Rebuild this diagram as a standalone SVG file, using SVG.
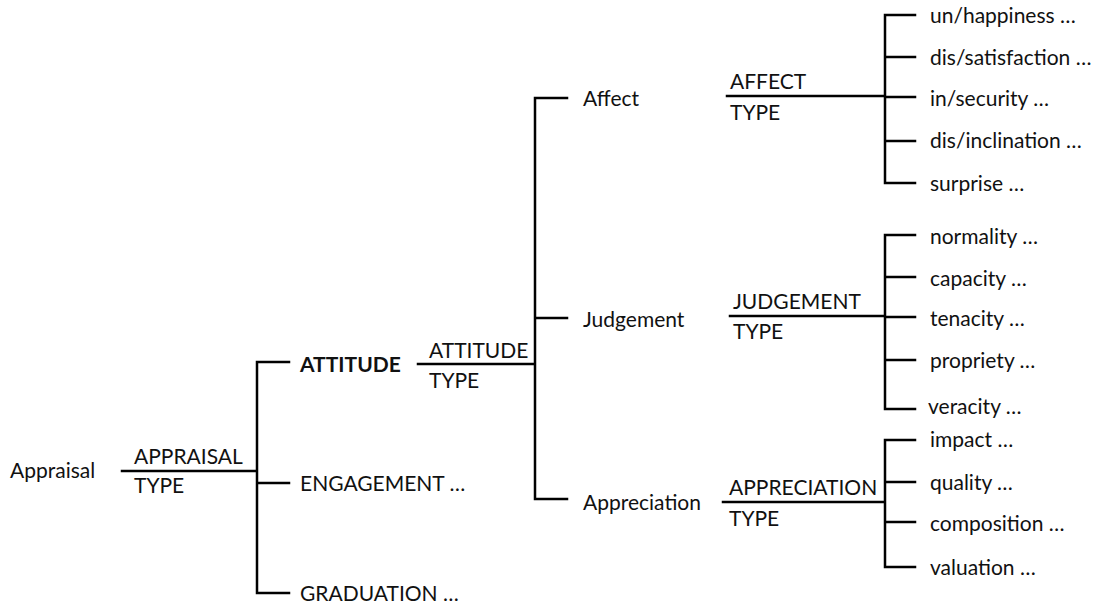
<svg xmlns="http://www.w3.org/2000/svg" width="1106" height="604" viewBox="0 0 1106 604">
<style>
text{font-family:Lato,"Open Sans","Liberation Sans",sans-serif;font-size:21px;fill:#111}
.b{font-weight:bold}
.c{stroke:#000;stroke-width:2.5;fill:none;stroke-linecap:square}
</style>
<rect width="1106" height="604" fill="#fff"/>
<g id="connectors" class="c">
<path d="M122 471H257M257 362V593M257 362H289M257 483H289M257 593H289"/>
<path d="M418 364H535M535 98V499M535 98H567M535 318H567M535 499H567"/>
<path d="M727 96H885M885 15V183M885 15H915M885 57H915M885 97H915M885 141H915M885 183H915"/>
<path d="M730 316H885M885 235V409M885 235H915M885 277H915M885 317H915M885 360H915M885 409H915"/>
<path d="M723 502H885M885 440V567M885 440H915M885 482H915M885 522H915M885 567H915"/>
</g>
<g id="appraisal"><text x="10" y="478">Appraisal</text><text x="134" y="464">APPRAISAL</text><text x="134" y="493">TYPE</text></g>
<g id="attitude"><text class="b" x="300" y="372">ATTITUDE</text><text x="429" y="358">ATTITUDE</text><text x="429" y="388">TYPE</text></g>
<g id="engagement"><text x="300" y="491">ENGAGEMENT …</text></g>
<g id="graduation"><text x="300" y="601">GRADUATION …</text></g>
<g id="affect"><text x="583" y="106">Affect</text><text x="730" y="89">AFFECT</text><text x="730" y="120">TYPE</text></g>
<g id="judgement"><text x="583" y="327">Judgement</text><text x="733" y="309">JUDGEMENT</text><text x="733" y="339">TYPE</text></g>
<g id="appreciation"><text x="583" y="510">Appreciation</text><text x="729" y="495">APPRECIATION</text><text x="729" y="526">TYPE</text></g>
<g id="affect-types"><text x="930" y="23">un/happiness …</text><text x="930" y="65">dis/satisfaction …</text><text x="930" y="106">in/security …</text><text x="930" y="148">dis/inclination …</text><text x="930" y="191">surprise …</text></g>
<g id="judgement-types"><text x="930" y="244">normality …</text><text x="930" y="286">capacity …</text><text x="930" y="326">tenacity …</text><text x="930" y="368">propriety …</text><text x="928" y="414">veracity …</text></g>
<g id="appreciation-types"><text x="930" y="447">impact …</text><text x="930" y="490">quality …</text><text x="930" y="531">composition …</text><text x="930" y="575">valuation …</text></g>
</svg>
